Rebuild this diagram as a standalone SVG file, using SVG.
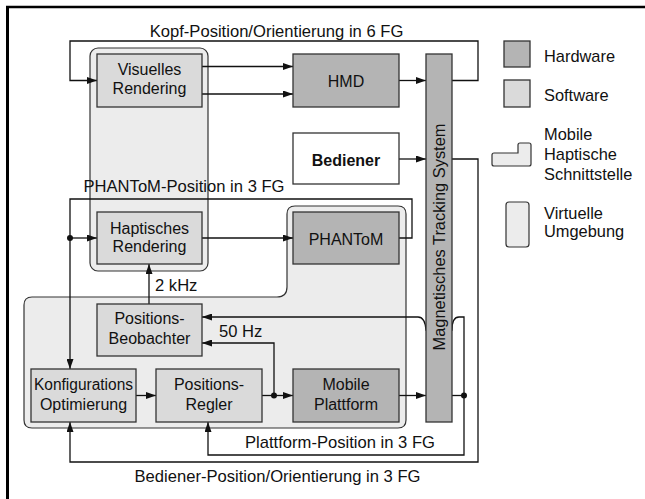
<svg xmlns="http://www.w3.org/2000/svg" width="645" height="499" viewBox="0 0 645 499">
<style>
text{font-family:"Liberation Sans",Arial,sans-serif;font-size:16px;fill:#111}
.lb{font-size:16.6px}
.lg{font-size:16.4px}
.bx{stroke:#333;stroke-width:1.3}
.hw{fill:#b4b4b4}
.sw{fill:#dadada}
.lt{fill:#ececec;stroke:#333;stroke-width:1.2}
.c{fill:none;stroke:#111;stroke-width:1.3}
.m{text-anchor:middle}
</style>
<defs>
<marker id="a" markerUnits="userSpaceOnUse" viewBox="0 0 10 7" refX="10" refY="3.5" markerWidth="10" markerHeight="7" orient="auto"><path d="M0,0 L10,3.5 L0,7 z" fill="#111"/></marker>
</defs>
<rect width="645" height="499" fill="#fff"/>
<g id="frame">
<line x1="6" y1="7" x2="645" y2="7" stroke="#000" stroke-width="2.5"/>
<line x1="7.5" y1="6" x2="7.5" y2="499" stroke="#000" stroke-width="3"/>
</g>
<g id="mobile-haptische-schnittstelle">
<path class="lt" d="M32,297 H277 Q287,297 287,287 V214 Q287,206 295,206 H398 Q406,206 406,214 V420 Q406,428 398,428 H32 Q24,428 24,420 V305 Q24,297 32,297 Z"/>
</g>
<g id="virtuelle-umgebung">
<rect class="lt" x="90" y="48" width="118" height="223" rx="8"/>
</g>
<g id="connectors">
<path class="c" d="M452,80.5 H478 V41 H70 V80.5 H97" marker-end="url(#a)"/>
<path class="c" d="M202,66.5 H293" marker-end="url(#a)"/>
<path class="c" d="M202,94 H293" marker-end="url(#a)"/>
<path class="c" d="M399,80.5 H426" marker-end="url(#a)"/>
<path class="c" d="M399,159 H426" marker-end="url(#a)"/>
<path class="c" d="M452,159 H478 V462 H70 V422" marker-end="url(#a)"/>
<path class="c" d="M399,238 H412 V199 H70 V369" marker-end="url(#a)"/>
<path class="c" d="M70,238 H97" marker-end="url(#a)"/>
<path class="c" d="M202,238 H293" marker-end="url(#a)"/>
<path class="c" d="M149,304 V264" marker-end="url(#a)"/>
<path class="c" d="M136,395.5 H156" marker-end="url(#a)"/>
<path class="c" d="M262,395.5 H293" marker-end="url(#a)"/>
<path class="c" d="M274,395.5 V343 H202" marker-end="url(#a)"/>
<path class="c" d="M399,395.5 H426" marker-end="url(#a)"/>
<path class="c" d="M452,395.5 H464"/>
<path class="c" d="M464,395.5 V455 H208 V422" marker-end="url(#a)"/>
<path class="c" d="M464,395.5 V317 H459 Q452,317 452,330 L426,330 Q425,317 418,317 H202" marker-end="url(#a)"/>
<circle cx="70" cy="238" r="3" fill="#111"/>
<circle cx="274" cy="395.5" r="3" fill="#111"/>
<circle cx="464" cy="395.5" r="3" fill="#111"/>
<text x="276.5" y="36.5" class="m lb">Kopf-Position/Orientierung in 6 FG</text>
<text x="184" y="191.5" class="m lb">PHANToM-Position in 3 FG</text>
<text x="155" y="290.5" class="lb">2 kHz</text>
<text x="219" y="336.5" class="lb">50 Hz</text>
<text x="340" y="448.3" class="m lb">Plattform-Position in 3 FG</text>
<text x="277.5" y="481.5" class="m lb">Bediener-Position/Orientierung in 3 FG</text>
</g>
<g id="visuelles-rendering">
<rect class="bx sw" x="97" y="54" width="105" height="53"/>
<text x="149.5" y="75" class="m">Visuelles</text>
<text x="149.5" y="94" class="m">Rendering</text>
</g>
<g id="hmd">
<rect class="bx hw" x="293" y="54" width="106" height="53"/>
<text x="346" y="87" class="m">HMD</text>
</g>
<g id="bediener">
<rect class="bx" fill="#fff" x="293" y="133" width="106" height="51"/>
<text x="346" y="166" class="m" font-weight="bold">Bediener</text>
</g>
<g id="haptisches-rendering">
<rect class="bx sw" x="97" y="212" width="105" height="52"/>
<text x="149.5" y="233.5" class="m">Haptisches</text>
<text x="149.5" y="251.5" class="m">Rendering</text>
</g>
<g id="phantom">
<rect class="bx hw" x="293" y="212" width="106" height="52"/>
<text x="346" y="244.5" class="m">PHANToM</text>
</g>
<g id="positions-beobachter">
<rect class="bx sw" x="97" y="304" width="105" height="52"/>
<text x="149.5" y="323.5" class="m">Positions-</text>
<text x="149.5" y="343.5" class="m">Beobachter</text>
</g>
<g id="konfigurations-optimierung">
<rect class="bx sw" x="31" y="369" width="105" height="53"/>
<text x="83.5" y="389.5" class="m" textLength="99" lengthAdjust="spacingAndGlyphs">Konfigurations</text>
<text x="83.5" y="409.5" class="m">Optimierung</text>
</g>
<g id="positions-regler">
<rect class="bx sw" x="156" y="369" width="106" height="53"/>
<text x="209" y="389.5" class="m">Positions-</text>
<text x="209" y="409.5" class="m">Regler</text>
</g>
<g id="mobile-plattform">
<rect class="bx hw" x="293" y="369" width="106" height="53"/>
<text x="346" y="389.5" class="m">Mobile</text>
<text x="346" y="409.5" class="m">Plattform</text>
</g>
<g id="tracking-system">
<rect class="bx hw" x="426" y="54" width="26" height="368"/>
<text transform="translate(445,237) rotate(-90)" class="m lg">Magnetisches Tracking System</text>
</g>
<g id="legend">
<rect class="bx hw" x="504" y="41" width="26" height="26"/>
<text x="544" y="61.5" class="lg">Hardware</text>
<rect class="bx sw" x="504" y="80" width="26" height="27"/>
<text x="544" y="100.5" class="lg">Software</text>
<path class="lt" d="M494,153 H518 V145 Q518,143 520,143 H529 Q531,143 531,145 V164 Q531,166 529,166 H494 Q492,166 492,164 V155 Q492,153 494,153 Z"/>
<text x="544" y="140" class="lg">Mobile</text>
<text x="544" y="160" class="lg">Haptische</text>
<text x="544" y="180" class="lg">Schnittstelle</text>
<rect class="lt" x="506" y="202" width="23" height="45" rx="3"/>
<text x="544" y="219" class="lg">Virtuelle</text>
<text x="544" y="237" class="lg">Umgebung</text>
</g>
</svg>
